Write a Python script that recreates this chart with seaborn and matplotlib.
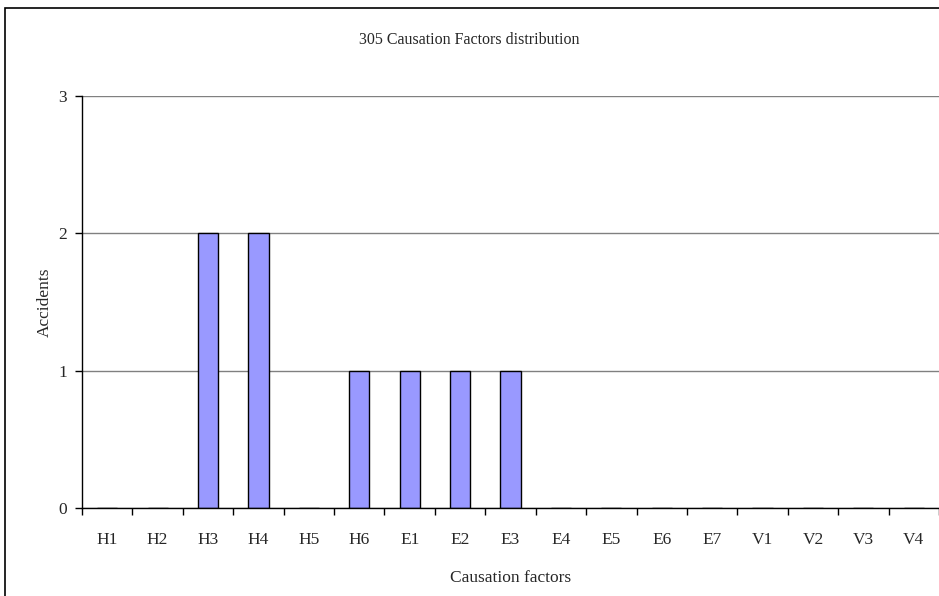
import numpy as np
import pandas as pd
import seaborn as sns
import matplotlib.pyplot as plt
from matplotlib.patches import Rectangle

# data
factors = ['H1', 'H2', 'H3', 'H4', 'H5', 'H6',
           'E1', 'E2', 'E3', 'E4', 'E5', 'E6', 'E7',
           'V1', 'V2', 'V3', 'V4']
accidents = [0, 0, 2, 2, 0, 1, 1, 1, 1, 0, 0, 0, 0, 0, 0, 0, 0]

df = pd.DataFrame({'factor': factors, 'accidents': accidents})

sns.set_style('white')
plt.rcParams['font.family'] = ['Liberation Serif', 'DejaVu Serif']

fig = plt.figure(figsize=(9.39, 5.96), dpi=100)
ax = fig.add_axes([82 / 939, 1 - 508 / 596, 1 - 82 / 939, (508 - 96) / 596])

sns.barplot(data=df, x='factor', y='accidents', color='#9999FF',
            edgecolor='black', linewidth=1, width=0.4, saturation=1, ax=ax)

ax.set_ylim(0, 3)
ax.set_xlim(-0.5, len(factors) - 0.5)
ax.set_yticks([0, 1, 2, 3])
ax.yaxis.grid(True, color='#808080', linewidth=1)
ax.set_axisbelow(True)

# ticks between categories, labels centered
ax.set_xticks(np.arange(len(factors)))
ax.set_xticks(np.arange(len(factors) + 1) - 0.5, minor=True)
ax.tick_params(axis='x', which='major', length=0, labelsize=12.5, pad=17)
ax.tick_params(axis='x', which='minor', bottom=True, length=5, width=1,
               direction='out', color='black')
ax.tick_params(axis='y', length=5, width=1, direction='out', color='black',
               labelsize=12.5, left=True, pad=6)

for s in ['top', 'right']:
    ax.spines[s].set_visible(False)
for s in ['left', 'bottom']:
    ax.spines[s].set_color('black')
    ax.spines[s].set_linewidth(1)

ax.set_xlabel('Causation factors', fontsize=12.5, labelpad=16)
ax.set_ylabel('Accidents', fontsize=12.5, labelpad=4)
fig.text(0.5, 1 - 40 / 596, '305 Causation Factors distribution',
         ha='center', va='center', fontsize=11.5)

# outer chart border
fig.patches.append(Rectangle((4.5 / 939, -0.01), 1.0, 1 - 8 / 596 + 0.01,
                             transform=fig.transFigure, fill=False,
                             edgecolor='black', linewidth=1.2))

fig.savefig('out.png', dpi=100)
